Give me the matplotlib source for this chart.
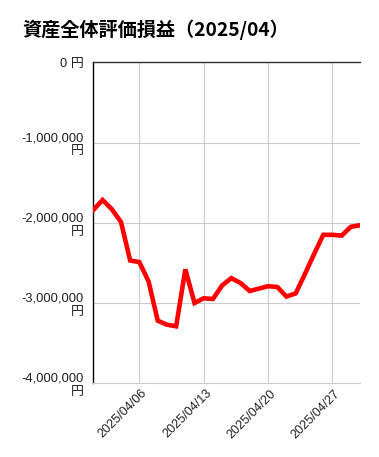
import matplotlib
matplotlib.use("Agg")
import matplotlib.pyplot as plt
import matplotlib.dates as mdates
import matplotlib.transforms as mtransforms
import numpy as np
import datetime as dt

plt.rcParams['font.family'] = ['Liberation Sans', 'Noto Sans CJK JP', 'DejaVu Sans']

# daily valuation gain/loss, 2025/04/01 .. 2025/04/30
days = list(range(1, 31))
values = [-1840000, -1716000, -1830000, -1990000, -2470000, -2490000, -2730000, -3220000,
          -3270000, -3290000, -2580000, -3000000, -2940000, -2950000, -2780000, -2690000,
          -2750000, -2850000, -2820000, -2790000, -2800000, -2920000, -2880000, -2640000,
          -2390000, -2150000, -2150000, -2160000, -2050000, -2030000]
dates = [dt.datetime(2025, 4, d) for d in days]
tick_dates = [dt.datetime(2025, 4, d) for d in [6, 13, 20, 27]]
y_ticks = [0, -1000000, -2000000, -3000000, -4000000]
title = "資産全体評価損益（2025/04）"

fig = plt.figure(figsize=(3.79, 4.57), dpi=100)
ax = fig.add_axes([0.2464, 0.1613, 0.950 - 0.2464, 0.8637 - 0.1613])

ax.plot(dates, values, color='#ff0000', lw=3.3, solid_joinstyle='miter', zorder=3)

ax.set_xlim(dt.datetime(2025, 4, 1), dt.datetime(2025, 4, 30))
ax.set_ylim(-4000000, 0)
ax.set_xticks(tick_dates)
ax.xaxis.set_major_formatter(mdates.DateFormatter('%Y/%m/%d'))
ax.set_yticks(y_ticks)
ylabels = []
for v in y_ticks:
    if v == 0:
        ylabels.append("0 円")
    else:
        ylabels.append(f"{v:,}\n円")
ax.set_yticklabels(ylabels, fontsize=9.3, color='#222222', multialignment='right',
                   linespacing=1.15)

ax.grid(True, color='#cccccc', lw=0.8, zorder=0)
ax.tick_params(axis='both', length=0, labelcolor='#222222')
ax.tick_params(axis='y', pad=7)
ax.tick_params(axis='x', pad=6, labelsize=9.1)
ax.spines['right'].set_visible(False)
ax.spines['left'].set_color('black')
ax.spines['left'].set_linewidth(1.0)
ax.spines['top'].set_color('#333333')
ax.spines['top'].set_linewidth(1.0)
ax.spines['bottom'].set_color('#cccccc')
ax.spines['bottom'].set_linewidth(0.8)

offset = mtransforms.ScaledTranslation(6 / 100, 0, fig.dpi_scale_trans)
for lab in ax.get_xticklabels():
    lab.set_rotation(45)
    lab.set_ha('right')
    lab.set_va('center')
    lab.set_rotation_mode('anchor')
    lab.set_transform(lab.get_transform() + offset)

fig.text(22 / 379, 1 - 30 / 457, title, fontsize=13.8, fontweight='bold',
         family=['Noto Sans CJK JP', 'DejaVu Sans'], ha='left', va='center', color='black')

fig.savefig("out.png", dpi=100)
